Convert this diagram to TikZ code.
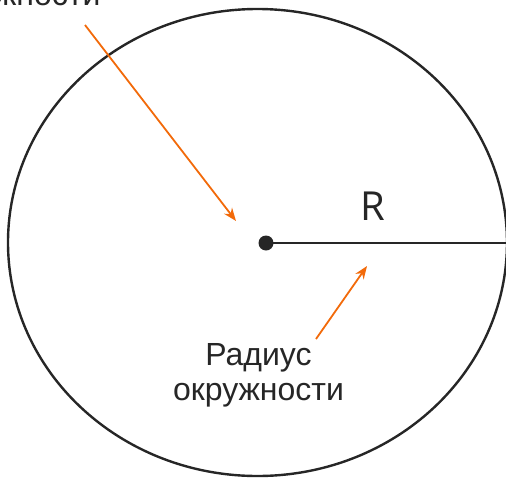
\documentclass[tikz,border=0pt]{standalone}
\usepackage{fontspec}
\setmainfont{Liberation Sans}
\newfontfamily\radfont{Open Sans}
\usepackage{tikz}
\usetikzlibrary{shapes.geometric, arrows.meta, positioning, calc}
\usepackage{xcolor}
\definecolor{inkDark}{HTML}{262626}
\definecolor{accentOrange}{HTML}{F26A0A}
\tikzset{
  rim/.style={draw=inkDark, line width=2.4pt, ellipse, inner sep=0pt},
  centerdot/.style={circle, fill=inkDark, inner sep=0pt, minimum size=15pt},
  label/.style={text=inkDark, inner sep=0pt, font=\fontsize{32}{35}\selectfont, align=center},
  pointer/.style={-{Stealth[length=13pt, width=10pt]}, color=accentOrange, line width=1.8pt},
}

\begin{document}
\begin{tikzpicture}[x=1pt, y=-1pt]
\useasboundingbox (0,0) rectangle (506,477);
\clip (0,0) rectangle (506,477);
\node[rim, minimum width=499pt, minimum height=467pt] (okr) at (257.5,242.5) {};
\node[centerdot] (cen) at (266,243) {};
\draw[inkDark, line width=2pt] (cen.center) -- (cen.center -| okr.east);
\node[text=inkDark, inner sep=0pt, font=\radfont\fontsize{40}{44}\selectfont] (rlab) at (372.5,206.5) {R};
\node[label] (radlab) at (258.5,375) {Радиус\\окружности};
\node[label, anchor=base] (cenlab) at (15,5) {окружности};
\coordinate (cenTail) at (85,25);
\coordinate (cenTip) at (236,221);
\coordinate (radTail) at (316,339);
\coordinate (radTip) at (367,266);
\draw[pointer] (cenTail) -- (cenTip);
\draw[pointer] (radTail) -- (radTip);
\end{tikzpicture}
\end{document}
